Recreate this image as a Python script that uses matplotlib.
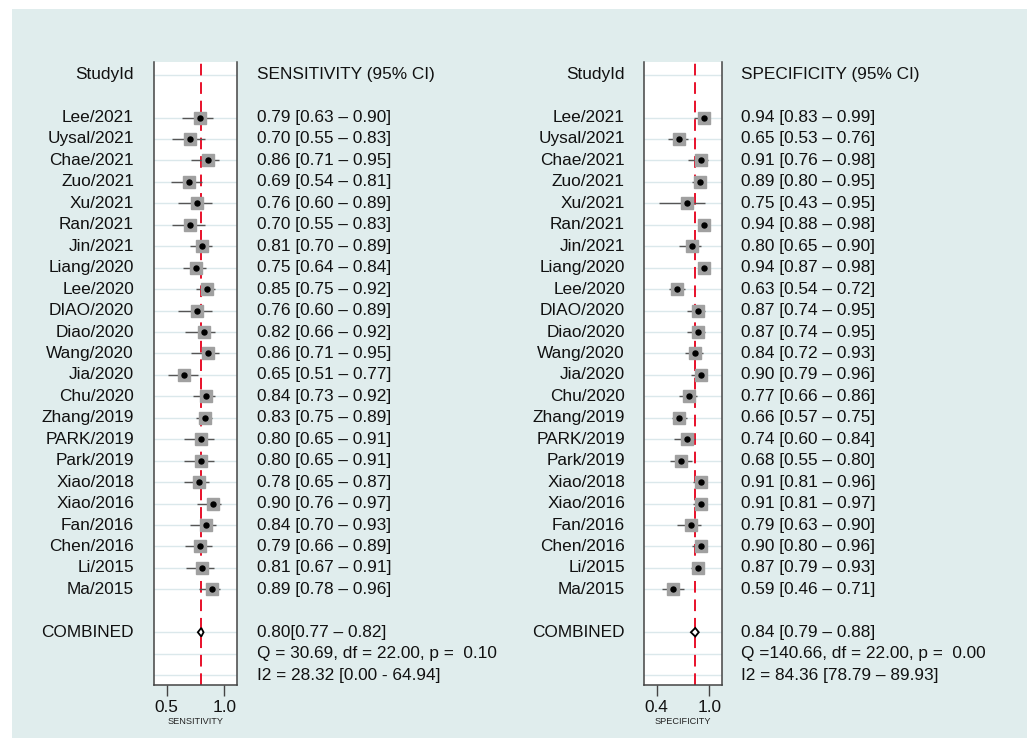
import numpy as np
import matplotlib.pyplot as plt
from matplotlib.patches import Rectangle, Polygon
from matplotlib.transforms import blended_transform_factory

plt.rcParams['font.family'] = ['Liberation Sans', 'DejaVu Sans']

studies = ['Lee/2021', 'Uysal/2021', 'Chae/2021', 'Zuo/2021', 'Xu/2021', 'Ran/2021',
           'Jin/2021', 'Liang/2020', 'Lee/2020', 'DIAO/2020', 'Diao/2020', 'Wang/2020',
           'Jia/2020', 'Chu/2020', 'Zhang/2019', 'PARK/2019', 'Park/2019', 'Xiao/2018',
           'Xiao/2016', 'Fan/2016', 'Chen/2016', 'Li/2015', 'Ma/2015']

sens = [0.79, 0.70, 0.86, 0.69, 0.76, 0.70, 0.81, 0.75, 0.85, 0.76, 0.82, 0.86,
        0.65, 0.84, 0.83, 0.80, 0.80, 0.78, 0.90, 0.84, 0.79, 0.81, 0.89]
sens_lo = [0.63, 0.55, 0.71, 0.54, 0.60, 0.55, 0.70, 0.64, 0.75, 0.60, 0.66, 0.71,
           0.51, 0.73, 0.75, 0.65, 0.65, 0.65, 0.76, 0.70, 0.66, 0.67, 0.78]
sens_hi = [0.90, 0.83, 0.95, 0.81, 0.89, 0.83, 0.89, 0.84, 0.92, 0.89, 0.92, 0.95,
           0.77, 0.92, 0.89, 0.91, 0.91, 0.87, 0.97, 0.93, 0.89, 0.91, 0.96]

spec = [0.94, 0.65, 0.91, 0.89, 0.75, 0.94, 0.80, 0.94, 0.63, 0.87, 0.87, 0.84,
        0.90, 0.77, 0.66, 0.74, 0.68, 0.91, 0.91, 0.79, 0.90, 0.87, 0.59]
spec_lo = [0.83, 0.53, 0.76, 0.80, 0.43, 0.88, 0.65, 0.87, 0.54, 0.74, 0.74, 0.72,
           0.79, 0.66, 0.57, 0.60, 0.55, 0.81, 0.81, 0.63, 0.80, 0.79, 0.46]
spec_hi = [0.99, 0.76, 0.98, 0.95, 0.95, 0.98, 0.90, 0.98, 0.72, 0.95, 0.95, 0.93,
           0.96, 0.86, 0.75, 0.84, 0.80, 0.96, 0.97, 0.90, 0.96, 0.93, 0.71]

sens_pooled = (0.80, 0.77, 0.82)
spec_pooled = (0.84, 0.79, 0.88)
sens_stats = ['0.80[0.77 \u2013 0.82]', 'Q = 30.69, df = 22.00, p =  0.10',
              'I2 = 28.32 [0.00 - 64.94]']
spec_stats = ['0.84 [0.79 \u2013 0.88]', 'Q =140.66, df = 22.00, p =  0.00',
              'I2 = 84.36 [78.79 \u2013 89.93]']

W, H = 1027, 738
fig = plt.figure(figsize=(W / 100, H / 100), dpi=100)
fig.patches.append(Rectangle((12 / W, 0), 1, 1 - 9 / H, transform=fig.transFigure,
                             facecolor='#e0eded', edgecolor='none', zorder=-10))

txt = dict(fontsize=12.4, color='#111111', va='center')
rows = np.arange(len(studies)) + 2
row_comb = len(studies) + 3


def panel(left_px, right_px, lab_px, stat_px, est, lo, hi, pooled, stats,
          xlim, ticks, xlabel, header):
    ax = fig.add_axes([left_px / W, 53 / H, (right_px - left_px) / W, 623 / H])
    ax.set_xlim(*xlim)
    ax.set_ylim(28.46, -0.59)
    for r in [0] + list(rows) + [row_comb, row_comb + 1, row_comb + 2]:
        ax.axhline(r, color='#dbe8eb', lw=1, zorder=0)
    ax.axvline(pooled[0], color='#e8102a', lw=1.4, ls=(0, (6, 3.5)), zorder=1)
    ax.hlines(rows, lo, hi, color='#555555', lw=1, zorder=2)
    ax.plot(est, rows, 's', ms=8.5, color='#a0a0a0', mec='#a0a0a0', zorder=3)
    ax.plot(est, rows, 'o', ms=3.6, color='black', zorder=4)
    ax.add_patch(Polygon([(pooled[1], row_comb), (pooled[0], row_comb - 0.2),
                          (pooled[2], row_comb), (pooled[0], row_comb + 0.2)],
                         closed=True, facecolor='white', edgecolor='black', lw=1.3, zorder=5))
    ax.set_yticks([])
    ax.set_xticks(ticks)
    ax.set_xticklabels(['%.1f' % t for t in ticks], fontsize=12.4, color='#111111')
    ax.tick_params(axis='x', direction='out', length=8, width=1, color='#444444', pad=3)
    ax.set_xlabel(xlabel, fontsize=6.6, labelpad=1.5, color='#222222')
    ax.spines['top'].set_visible(False)
    for s in ['left', 'right', 'bottom']:
        ax.spines[s].set_color('#444444')
        ax.spines[s].set_linewidth(1.1)

    tr = blended_transform_factory(fig.transFigure, ax.transData)
    fig.text(lab_px / W, 0, 'StudyId', ha='right', transform=tr, **txt)
    fig.text(stat_px / W, 0, header, ha='left', transform=tr, **txt)
    for r, name, e, l, h in zip(rows, studies, est, lo, hi):
        fig.text(lab_px / W, r, name, ha='right', transform=tr, **txt)
        fig.text(stat_px / W, r, '%.2f [%.2f \u2013 %.2f]' % (e, l, h), ha='left',
                 transform=tr, **txt)
    fig.text(lab_px / W, row_comb, 'COMBINED', ha='right', transform=tr, **txt)
    for k, s in enumerate(stats):
        fig.text(stat_px / W, row_comb + k, s, ha='left', transform=tr, **txt)
    return ax


panel(154, 237, 134, 257, sens, sens_lo, sens_hi, sens_pooled, sens_stats,
      (0.39, 1.11), [0.5, 1.0], 'SENSITIVITY', 'SENSITIVITY (95% CI)')
panel(644, 722, 625, 741, spec, spec_lo, spec_hi, spec_pooled, spec_stats,
      (0.255, 1.145), [0.4, 1.0], 'SPECIFICITY', 'SPECIFICITY (95% CI)')

fig.savefig('out.png', dpi=100)
